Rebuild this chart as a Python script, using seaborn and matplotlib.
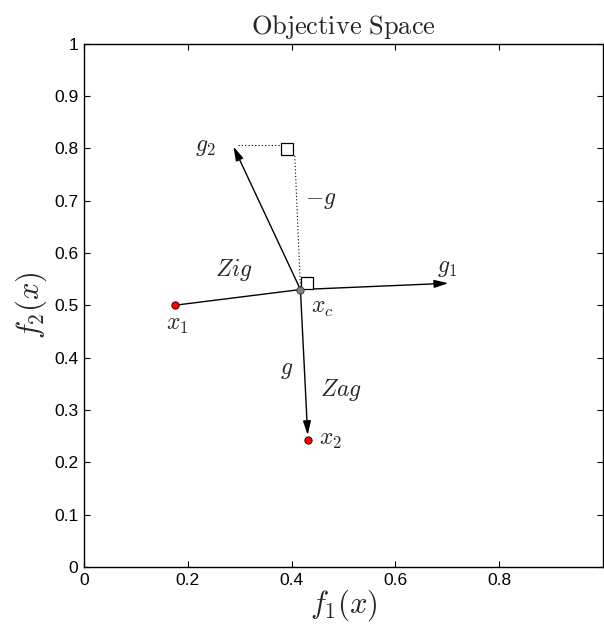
import matplotlib
matplotlib.use("Agg")
import matplotlib.pyplot as plt
import seaborn as sns
import pandas as pd

# ---- data ----
point_names = ["x1", "x2", "xc"]
point_x = [0.175, 0.431, 0.417]
point_y = [0.500, 0.242, 0.530]
point_kind = ["end", "end", "center"]

# arrows from xc
arrow_names = ["g1", "g2", "g"]
arrow_x_end = [0.702, 0.288, 0.431]
arrow_y_end = [0.542, 0.803, 0.252]

# right-angle squares
square_x = [0.392, 0.430]
square_y = [0.799, 0.543]

# dotted construction lines
dot_h_x = [0.297, 0.381]
dot_h_y = [0.806, 0.806]
dot_v_x = [0.417, 0.406]
dot_v_y = [0.535, 0.789]

label_texts = [r"$x_1$", r"$x_c$", r"$x_2$", r"$g$", r"$Zag$", r"$Zig$", r"$-g$", r"$g_2$", r"$g_1$"]
label_x = [0.180, 0.437, 0.453, 0.390, 0.496, 0.288, 0.426, 0.233, 0.700]
label_y = [0.462, 0.494, 0.243, 0.376, 0.338, 0.567, 0.701, 0.802, 0.571]
label_ha = ["center", "left", "left", "center", "center", "center", "left", "center", "center"]

x_ticks = [0, 0.2, 0.4, 0.6, 0.8]
x_tick_labels = ["0", "0.2", "0.4", "0.6", "0.8"]
y_ticks = [0, 0.1, 0.2, 0.3, 0.4, 0.5, 0.6, 0.7, 0.8, 0.9, 1.0]
y_tick_labels = ["0", "0.1", "0.2", "0.3", "0.4", "0.5", "0.6", "0.7", "0.8", "0.9", "1"]

# ---- style ----
sns.set_style("ticks")
plt.rcParams["font.family"] = ["Liberation Sans", "DejaVu Sans"]
plt.rcParams["mathtext.fontset"] = "cm"

fig = plt.figure(figsize=(6.04, 6.33), dpi=100)
ax = fig.add_axes([84 / 604, 1 - 567 / 633, (603 - 84) / 604, (567 - 43.5) / 633])

xc_x, xc_y = point_x[2], point_y[2]

# solid line x1 -> xc
sns.lineplot(x=[point_x[0], xc_x], y=[point_y[0], xc_y], ax=ax, color="black",
             lw=1.0, sort=False, estimator=None, zorder=2)

# arrows
for xe, ye in zip(arrow_x_end, arrow_y_end):
    ax.annotate("", xy=(xe, ye), xytext=(xc_x, xc_y),
                arrowprops=dict(arrowstyle="-|>,head_length=0.6,head_width=0.17",
                                color="black", lw=1.0, shrinkA=0, shrinkB=0,
                                mutation_scale=14), zorder=2)

# dotted lines
ax.plot(dot_h_x, dot_h_y, color="black", ls=(0, (1, 2)), lw=0.8, zorder=1)
ax.plot(dot_v_x, dot_v_y, color="black", ls=(0, (1, 2)), lw=0.8, zorder=1)

# squares
ax.plot(square_x, square_y, ls="none", marker="s", markersize=8.3,
        markerfacecolor="white", markeredgecolor="black", markeredgewidth=0.9, zorder=3)

# points
df = pd.DataFrame({"x": point_x, "y": point_y, "kind": point_kind})
sns.scatterplot(data=df[df.kind == "end"], x="x", y="y", ax=ax, color="red",
                edgecolor="black", linewidth=0.6, s=28, marker="o", zorder=4, legend=False)
sns.scatterplot(data=df[df.kind == "center"], x="x", y="y", ax=ax, color="#808080",
                edgecolor="#333333", linewidth=0.6, s=28, marker="o", zorder=4, legend=False)

# labels
for t, lx, ly, ha in zip(label_texts, label_x, label_y, label_ha):
    ax.text(lx, ly, t, fontsize=17, ha=ha, va="center", zorder=5)

ax.set_xlim(0, 1)
ax.set_ylim(0, 1)
ax.set_xticks(x_ticks)
ax.set_xticklabels(x_tick_labels)
ax.set_yticks(y_ticks)
ax.set_yticklabels(y_tick_labels)
ax.tick_params(direction="in", length=4, width=0.8, labelsize=12.5, top=True, right=True,
               colors="black", pad=4)
for s in ax.spines.values():
    s.set_linewidth(1.0)
    s.set_color("black")

ax.set_xlabel(r"$f_1(x)$", fontsize=22, labelpad=0)
ax.set_ylabel(r"$f_2(x)$", fontsize=22, labelpad=4)
ax.set_title(r"$\mathrm{Objective\ Space}$", fontsize=19, pad=7)

fig.savefig("out.png", dpi=100)
